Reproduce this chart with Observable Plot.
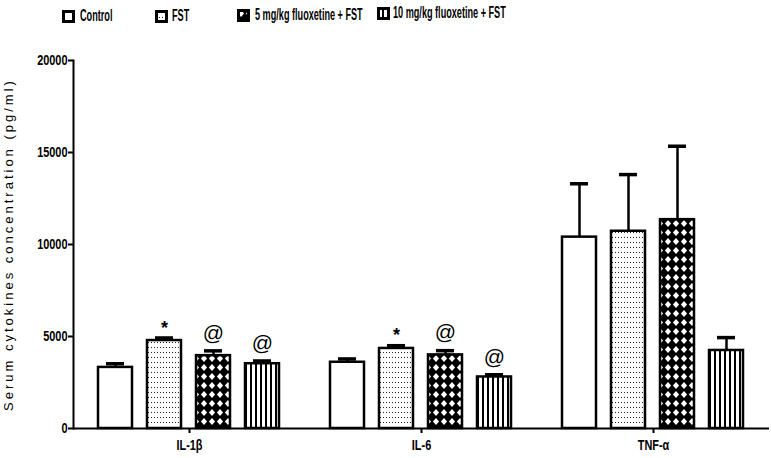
<!DOCTYPE html>
<html>
<head>
<meta charset="utf-8">
<script src="https://cdn.jsdelivr.net/npm/d3@7"></script>
<script src="https://cdn.jsdelivr.net/npm/@observablehq/plot@0.6"></script>
<style>
  body { margin: 0; background: #fff; }
  #wrap { position: relative; width: 771px; height: 458px; background: #fff; }
  #legend { position: relative; width: 771px; height: 30px;
    font-family: "Liberation Sans", Arial, sans-serif;
    font-weight: bold; font-size: 16px; color: #000; }
  #legend .sw { position: absolute; }
  #legend .lb { position: absolute; line-height: 1; white-space: nowrap;
    transform: scaleX(0.57); transform-origin: 0 0; }
</style>
</head>
<body>
<div id="wrap">
  <div id="legend"></div>
  <div id="chart"></div>
</div>
<script>
// ---- data ----
const groups = ["IL-1β", "IL-6", "TNF-α"];
const series = ["Control", "FST", "5 mg/kg fluoxetine + FST", "10 mg/kg fluoxetine + FST"];

const controlMean = [3320, 3600, 10400];
const controlSem  = [200, 180, 2900];
const fstMean     = [4780, 4350, 10720];
const fstSem      = [140, 150, 3080];
const fiveMean    = [3960, 4000, 11350];
const fiveSem     = [260, 230, 3990];
const tenMean     = [3520, 2800, 4240];
const tenSem      = [150, 120, 700];

const controlMark = ["", "", ""];
const fstMark     = ["*", "*", ""];
const fiveMark    = ["@", "@", ""];
const tenMark     = ["@", "@", ""];

const yTicks = [0, 5000, 10000, 15000, 20000];
const yLabel = "Serum cytokines concentration (pg/ml)";

const seriesMeans = [controlMean, fstMean, fiveMean, tenMean];
const seriesSems  = [controlSem, fstSem, fiveSem, tenSem];
const seriesMarks = [controlMark, fstMark, fiveMark, tenMark];

const rows = [];
groups.forEach((g, i) => {
  series.forEach((s, j) => {
    rows.push({group: g, series: s, mean: seriesMeans[j][i], sem: seriesSems[j][i],
               top: seriesMeans[j][i] + seriesSems[j][i], mark: seriesMarks[j][i]});
  });
});

const fills = ["white", "url(#pDots)", "url(#pCross)", "url(#pLines)"];
const tickFont = '"Liberation Sans", Arial, sans-serif';

const chart = Plot.plot({
  width: 771,
  height: 428,
  marginTop: 30,
  marginBottom: 30,
  marginLeft: 73,
  marginRight: 2,
  style: {fontFamily: tickFont, fontSize: "14px", fontWeight: "bold", color: "#000", background: "#fff", overflow: "visible"},
  fx: {domain: groups, padding: 0, axis: null},
  x: {domain: series, paddingInner: 0.3, paddingOuter: 0.49, axis: null},
  y: {domain: [0, 20000], axis: null},
  color: {domain: series, range: fills},
  marks: [
    Plot.axisY({ticks: yTicks, tickSize: 5, tickPadding: 1, strokeWidth: 2, fontSize: 14,
                tickFormat: d => String(d), label: yLabel, labelArrow: "none",
                labelAnchor: "center", labelOffset: 70}),
    Plot.axisFx({anchor: "bottom", tickSize: 5, tickPadding: 7, strokeWidth: 2, label: null, fontSize: 14}),
    Plot.frame({anchor: "left", facetAnchor: "left", strokeWidth: 2}),
    Plot.ruleX(rows, {fx: "group", x: "series", y1: "mean", y2: "top", strokeWidth: 2.5}),
    Plot.tickY(rows, {fx: "group", x: "series", y: "top", strokeWidth: 3.5, insetLeft: 8, insetRight: 8}),
    Plot.barY(rows, {fx: "group", x: "series", y: "mean", fill: "series", stroke: "#000", strokeWidth: 2.5}),
    Plot.ruleY([0], {strokeWidth: 2}),
    Plot.text(rows.filter(d => d.mark === "*"), {fx: "group", x: "series", y: "top", text: "mark",
              dy: -10, fontSize: 18, fontWeight: "bold", fontFamily: "Liberation Sans, Arial, sans-serif"}),
    Plot.text(rows.filter(d => d.mark === "@"), {fx: "group", x: "series", y: "top", text: "mark",
              dy: -18, fontSize: 21, fontWeight: "normal", fontFamily: "Liberation Sans, Arial, sans-serif"})
  ]
});

// patterns
const defs = `
<defs>
  <pattern id="pDots" patternUnits="userSpaceOnUse" width="3" height="5">
    <rect width="3" height="5" fill="#fff"/>
    <rect x="1" y="2" width="1" height="1" fill="#222"/>
  </pattern>
  <pattern id="pCross" patternUnits="userSpaceOnUse" width="8" height="9">
    <rect width="8" height="9" fill="#000"/>
    <polygon points="4,0.9 7.1,4.5 4,8.1 0.9,4.5" fill="#fff"/>
  </pattern>
  <pattern id="pLines" patternUnits="userSpaceOnUse" width="5" height="4">
    <rect width="5" height="4" fill="#fff"/>
    <rect x="0" y="0" width="2" height="4" fill="#000"/>
  </pattern>
</defs>`;
chart.insertAdjacentHTML("afterbegin", defs);

// condensed tick labels
chart.querySelectorAll('[aria-label="y-axis tick label"] text, [aria-label="fx-axis tick label"] text').forEach(t => {
  const tr = t.getAttribute("transform") || "";
  t.setAttribute("transform", tr + " scale(0.78,1)");
});

// y label style
const g = chart.querySelector('[aria-label="y-axis label"]');
if (g) {
  g.setAttribute("font-family", "Liberation Sans, Arial, sans-serif");
  g.setAttribute("font-weight", "normal");
  g.setAttribute("font-size", "13");
  g.style.letterSpacing = "3px";
}
document.getElementById("chart").appendChild(chart);

// legend
const legendItems = [
  {sw: 62, lb: 80, top: 8, fill: "white"},
  {sw: 155, lb: 172, top: 8, fill: "url(#pDots)"},
  {sw: 237, lb: 255, top: 7, fill: "url(#pCross)"},
  {sw: 377, lb: 393, top: 5, fill: "url(#pLines)"}
];
const legend = document.getElementById("legend");
series.forEach((s, j) => {
  const it = legendItems[j];
  const sw = document.createElementNS("http://www.w3.org/2000/svg", "svg");
  sw.setAttribute("width", 13); sw.setAttribute("height", 13);
  sw.setAttribute("class", "sw");
  sw.style.left = it.sw + "px"; sw.style.top = (it.top + 2) + "px";
  sw.innerHTML = `<rect x="1.5" y="1.5" width="10" height="10" fill="${it.fill}" stroke="#000" stroke-width="3"/>`;
  legend.appendChild(sw);
  const lb = document.createElement("div");
  lb.className = "lb";
  lb.textContent = s;
  lb.style.left = it.lb + "px"; lb.style.top = it.top + "px";
  legend.appendChild(lb);
});
</script>
</body>
</html>
